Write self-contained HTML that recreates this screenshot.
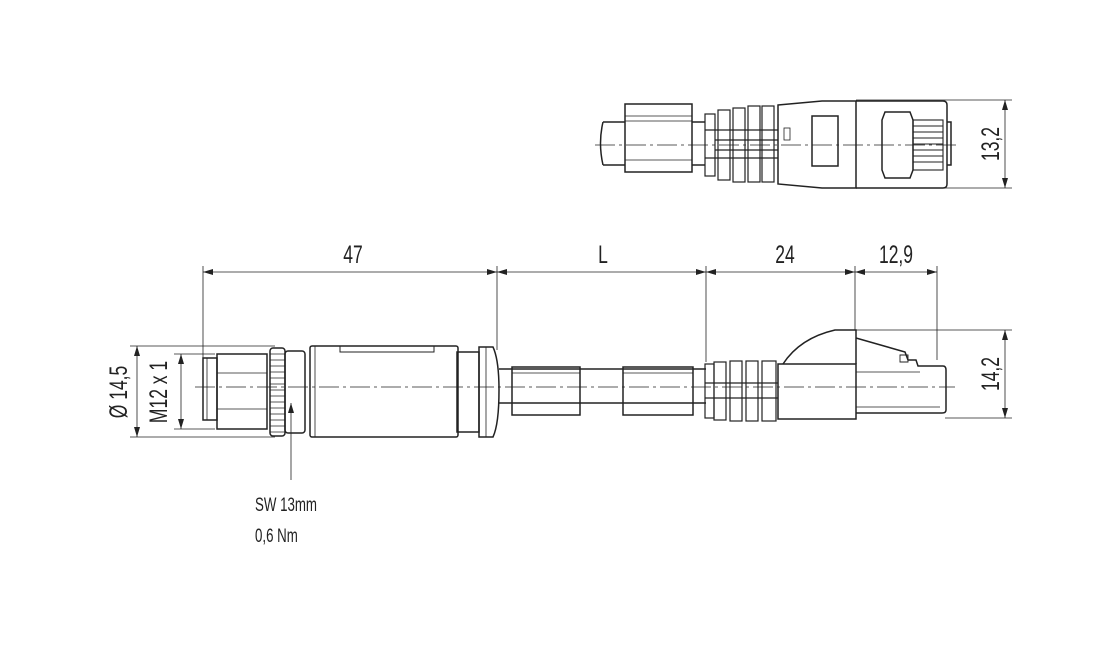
<!DOCTYPE html>
<html><head><meta charset="utf-8"><style>
html,body{margin:0;padding:0;background:#fff;width:1110px;height:646px;overflow:hidden}
svg{display:block}
text{font-family:"Liberation Sans",sans-serif;fill:#222}
</style></head><body>
<svg width="1110" height="646" viewBox="0 0 1110 646" xmlns="http://www.w3.org/2000/svg">
<defs>
<marker id="a" viewBox="0 0 10 6" refX="10" refY="3" markerWidth="10" markerHeight="6" orient="auto-start-reverse" markerUnits="userSpaceOnUse"><path d="M0,0 L10,3 L0,6z" fill="#222"/></marker>
</defs>
<g stroke="#222" fill="none" stroke-width="1.5">
<!-- ===== TOP VIEW ===== -->
<path d="M603,122 Q598,143 603,165 M603,122 H625 M603,165 H625"/>
<rect x="625" y="104" width="67" height="68"/>
<line x1="625" y1="116" x2="692" y2="116" stroke-width="0.8"/>
<line x1="625" y1="121" x2="692" y2="121" stroke-width="0.8"/>
<line x1="625" y1="160" x2="692" y2="160" stroke-width="0.8"/>
<line x1="692" y1="122" x2="705" y2="122"/><line x1="692" y1="165" x2="705" y2="165"/>
<g stroke-width="1.2">
<rect x="705" y="114" width="10" height="62"/>
<rect x="718" y="110" width="12" height="70"/>
<rect x="733" y="108" width="12" height="74"/>
<rect x="748" y="106" width="12" height="76"/>
<rect x="762" y="106" width="12" height="76"/>
<path d="M705,130 H778 M705,158 H778 M715,140 H778 M715,150 H778"/>
</g>
<path d="M778,105 L822,101 L856,101 L856,188 L822,188 L778,184 Z"/>
<rect x="812" y="116" width="26" height="50"/>
<rect x="784" y="128" width="6" height="12" stroke-width="0.8"/>
<path d="M856,101 H943 Q947,101 947,105 V184 Q947,188 943,188 H856"/>
<path d="M882,120 L885,112 H910 L913,120 V170 L910,178 H885 L882,170 Z"/>
<g stroke-width="1.1">
<rect x="913" y="120" width="30" height="50"/>
<path d="M913,126 H943 M913,132 H943 M913,138 H943 M913,144 H943 M913,150 H943 M913,156 H943 M913,162 H943"/>
</g>
<path d="M947,122 H951 V165 H947"/>
<line x1="595" y1="145" x2="960" y2="145" stroke-width="0.7" stroke-dasharray="20,4,3,4"/>
<g stroke-width="0.8">
<line x1="856" y1="100" x2="1012" y2="100"/>
<line x1="856" y1="188" x2="1012" y2="188"/>
<line x1="1005" y1="100" x2="1005" y2="188" marker-start="url(#a)" marker-end="url(#a)"/>
</g>

<!-- ===== MAIN VIEW ===== -->
<g stroke-width="0.8">
<line x1="203" y1="266" x2="203" y2="358"/>
<line x1="497" y1="266" x2="497" y2="350"/>
<line x1="706" y1="266" x2="706" y2="362"/>
<line x1="855" y1="266" x2="855" y2="330"/>
<line x1="937" y1="266" x2="937" y2="360"/>
<line x1="203" y1="272" x2="497" y2="272" marker-start="url(#a)" marker-end="url(#a)"/>
<line x1="497" y1="272" x2="706" y2="272" marker-start="url(#a)" marker-end="url(#a)"/>
<line x1="706" y1="272" x2="855" y2="272" marker-start="url(#a)" marker-end="url(#a)"/>
<line x1="855" y1="272" x2="937" y2="272" marker-start="url(#a)" marker-end="url(#a)"/>
<line x1="130" y1="346" x2="275" y2="346"/>
<line x1="130" y1="437" x2="275" y2="437"/>
<line x1="137" y1="346" x2="137" y2="437" marker-start="url(#a)" marker-end="url(#a)"/>
<line x1="174" y1="354" x2="215" y2="354"/>
<line x1="174" y1="429" x2="215" y2="429"/>
<line x1="181" y1="354" x2="181" y2="429" marker-start="url(#a)" marker-end="url(#a)"/>
<line x1="856" y1="330" x2="1012" y2="330"/>
<line x1="945" y1="418" x2="1012" y2="418"/>
<line x1="1005" y1="330" x2="1005" y2="418" marker-start="url(#a)" marker-end="url(#a)"/>
<line x1="291" y1="480" x2="291" y2="403" marker-end="url(#a)"/>
</g>
<rect x="203" y="358" width="14" height="62"/>
<line x1="207" y1="358" x2="207" y2="420" stroke-width="0.8"/>
<rect x="217" y="354" width="50" height="75"/>
<line x1="217" y1="373" x2="267" y2="373" stroke-width="0.8"/>
<line x1="217" y1="409" x2="267" y2="409" stroke-width="0.8"/>
<rect x="270" y="348" width="15" height="88" rx="3"/>
<g stroke-width="0.8"><path d="M270,354H285M270,360H285M270,366H285M270,372H285M270,378H285M270,384H285M270,390H285M270,396H285M270,402H285M270,408H285M270,414H285M270,420H285M270,426H285M270,432H285"/></g>
<rect x="285" y="351" width="20" height="82" rx="3"/>
<rect x="310" y="346" width="148" height="91" rx="2"/>
<line x1="315" y1="346" x2="315" y2="437" stroke-width="0.8"/>
<path d="M340,346 V352 H434 V346" stroke-width="1"/>
<rect x="457" y="352" width="22" height="80"/>
<path d="M479,347 H493 Q499,360 499,390 Q499,424 493,437 H479 Z"/>
<line x1="486" y1="347" x2="486" y2="437" stroke-width="0.8"/>
<line x1="499" y1="369" x2="706" y2="369"/>
<line x1="499" y1="403" x2="706" y2="403"/>
<rect x="512" y="367" width="68" height="48"/>
<rect x="623" y="367" width="70" height="48"/>
<line x1="512" y1="373" x2="580" y2="373" stroke-width="0.8"/>
<line x1="623" y1="373" x2="693" y2="373" stroke-width="0.8"/>
<g stroke-width="1.2">
<rect x="705" y="364" width="9" height="54"/>
<rect x="714" y="362" width="12" height="58"/>
<rect x="730" y="361" width="12" height="60"/>
<rect x="746" y="361" width="12" height="60"/>
<rect x="762" y="361" width="14" height="60"/>
<path d="M705,383 H778 M705,398 H778"/>
</g>
<rect x="778" y="364" width="78" height="55"/>
<path d="M783,364 Q800,338 835,330 H856 V364"/>
<path d="M856,338 L905,352 L908,360 H916 L918,366 H943 Q946,366 946,370 V410 Q946,413 942,413 H856"/>
<path d="M900,355 H908 V362 H900 Z" stroke-width="0.9"/>
<path d="M856,372 H920 M856,407 H940" stroke-width="0.8"/>
<line x1="195" y1="387" x2="955" y2="387" stroke-width="0.7" stroke-dasharray="20,4,3,4"/>
</g>
<g font-size="25">
<text x="353" y="263" text-anchor="middle" transform="translate(353,0) scale(0.7,1) translate(-353,0)">47</text>
<text x="603" y="263" text-anchor="middle" transform="translate(603,0) scale(0.7,1) translate(-603,0)">L</text>
<text x="785" y="263" text-anchor="middle" transform="translate(785,0) scale(0.7,1) translate(-785,0)">24</text>
<text x="896" y="263" text-anchor="middle" transform="translate(896,0) scale(0.7,1) translate(-896,0)">12,9</text>
<text transform="translate(999,374) rotate(-90) scale(0.7,1)" text-anchor="middle">14,2</text>
<text transform="translate(999,144) rotate(-90) scale(0.7,1)" text-anchor="middle">13,2</text>
<text transform="translate(127,392) rotate(-90) scale(0.7,1)" text-anchor="middle">Ø 14,5</text>
<text transform="translate(167,392) rotate(-90) scale(0.7,1)" text-anchor="middle">M12 x 1</text>
</g>
<g font-size="19">
<text transform="translate(255,511) scale(0.7,1)">SW 13mm</text>
<text transform="translate(255,542) scale(0.7,1)">0,6 Nm</text>
</g>
</svg>
</body></html>
